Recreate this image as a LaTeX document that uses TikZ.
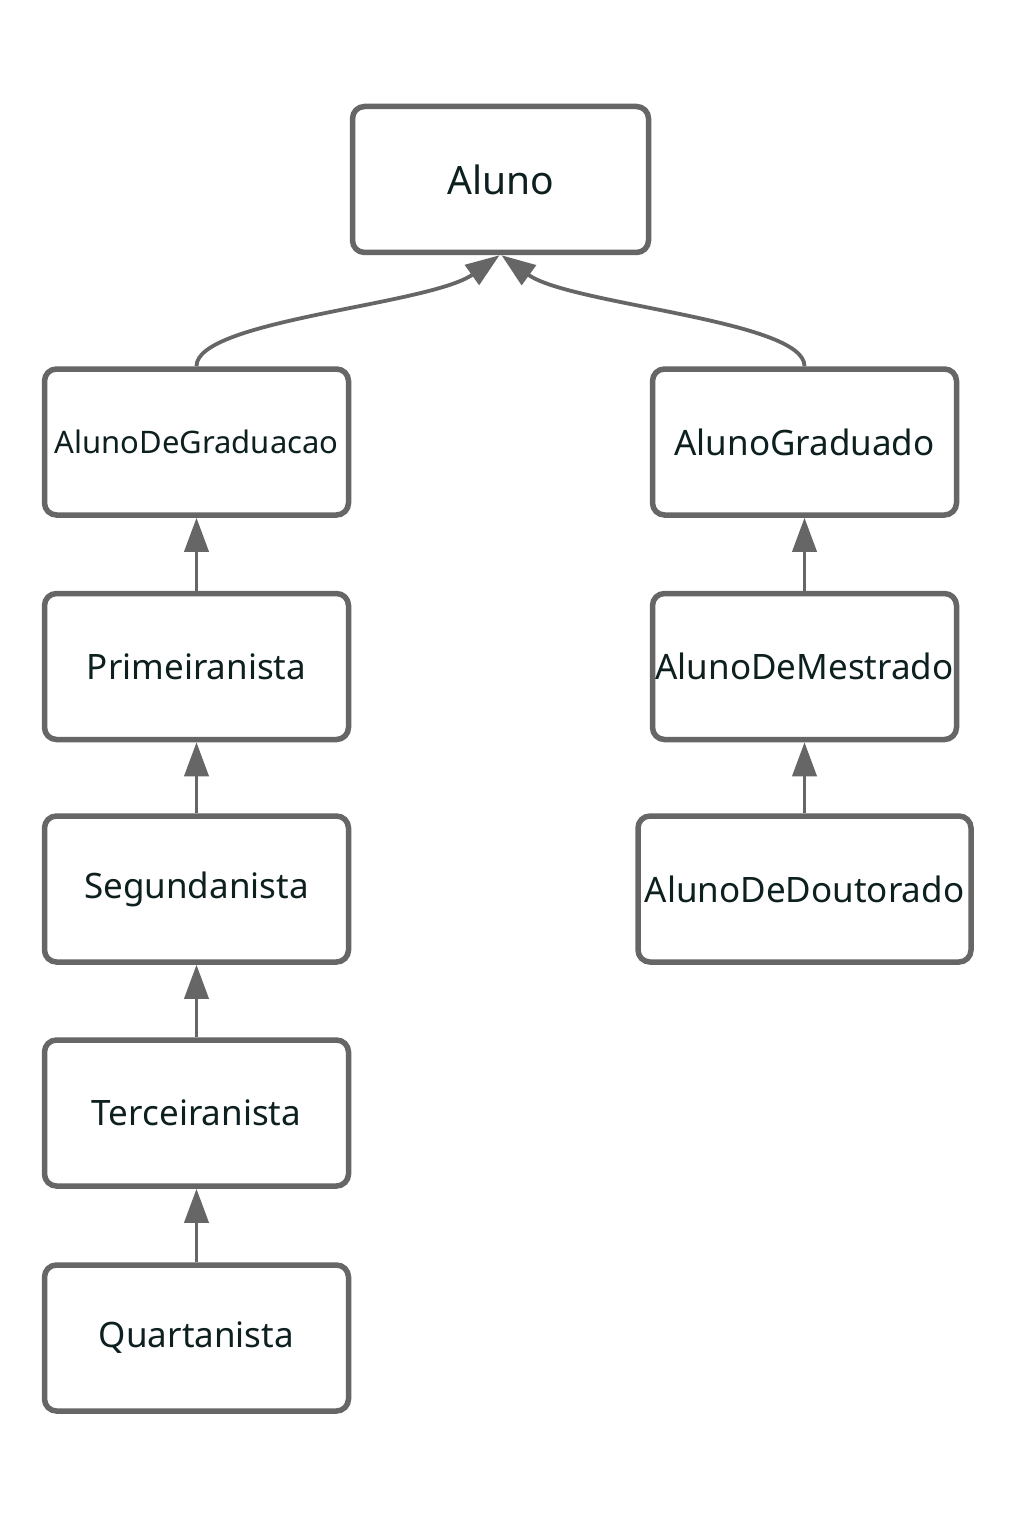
\documentclass[tikz,border=0pt]{standalone}
\usepackage{fontspec}
\setmainfont{Noto Sans}
\usetikzlibrary{arrows.meta}
\definecolor{linegray}{HTML}{666666}
\definecolor{txt}{HTML}{0D1F1F}
\begin{document}
\begin{tikzpicture}[x=1pt,y=-1pt,
  cls/.style={draw=linegray, line width=5.5pt, rounded corners=12pt, fill=white,
    minimum width=304pt, minimum height=146pt, inner sep=0pt, text=txt, font=\fontsize{35}{42}\selectfont},
  inh/.style={draw=linegray, line width=3.8pt, -{Triangle[length=34pt,width=24pt]}, fill=none},
]
\useasboundingbox (0,0) rectangle (1009,1530);
\node[cls, minimum width=296pt, font=\fontsize{39}{46}\selectfont] (aluno) at (500.5,179.5) {Aluno};
\node[cls, font=\fontsize{31}{37}\selectfont] (grad) at (196.5,442) {AlunoDeGraduacao};
\node[cls] (gradd) at (804.5,442) {AlunoGraduado};
\node[cls] (prim) at (196.5,666.5) {Primeiranista};
\node[cls] (mest) at (804.5,666.5) {AlunoDeMestrado};
\node[cls] (seg) at (196.5,889) {Segundanista};
\node[cls, minimum width=333pt] (dout) at (804.5,889) {AlunoDeDoutorado};
\node[cls] (ter) at (196.5,1113) {Terceiranista};
\node[cls] (quar) at (196.5,1338) {Quartanista};
\draw[inh] (grad.north) .. controls (196,320) and (430,305) .. ([xshift=-1pt]aluno.south);
\draw[inh] (gradd.north) .. controls (805,320) and (570,305) .. ([xshift=1pt]aluno.south);
\draw[inh] (prim.north) -- (grad.south);
\draw[inh] (seg.north) -- (prim.south);
\draw[inh] (ter.north) -- (seg.south);
\draw[inh] (quar.north) -- (ter.south);
\draw[inh] (mest.north) -- (gradd.south);
\draw[inh] (dout.north) -- (mest.south);
\end{tikzpicture}
\end{document}
